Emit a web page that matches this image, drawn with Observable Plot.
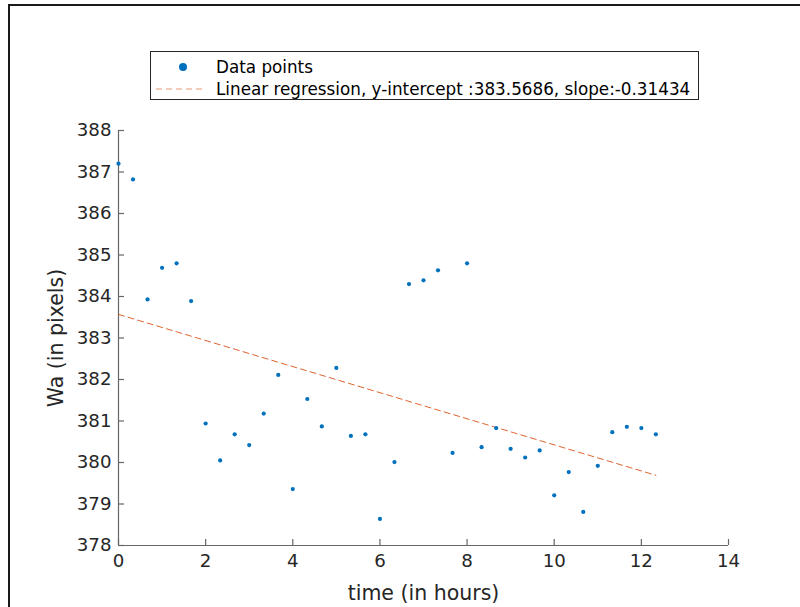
<!DOCTYPE html>
<html>
<head>
<meta charset="utf-8">
<script src="https://cdn.jsdelivr.net/npm/d3@7"></script>
<script src="https://cdn.jsdelivr.net/npm/@observablehq/plot@0.6"></script>
<style>
  body { margin: 0; background: #fff; }
  #wrap { position: relative; width: 800px; height: 607px; overflow: hidden; font-family: "DejaVu Sans", sans-serif; background: #fff; }
  #frame { position: absolute; left: 8px; top: 4px; width: 900px; height: 700px; border-left: 2px solid #1a1a1a; border-top: 2px solid #1a1a1a; pointer-events: none; }
  #chart { position: absolute; left: 0; top: 0; }
  #legend { position: absolute; left: 150px; top: 51px; width: 547px; height: 47px; border: 1px solid #262626; background: #fff; font-size: 16.8px; color: #000; }
  #legend .row { position: absolute; left: 0; height: 22px; line-height: 22px; white-space: nowrap; }
  #legend .row svg { position: absolute; left: 0; top: 0; }
  #legend .row span { position: absolute; left: 65px; top: 0; }
</style>
</head>
<body>
<div id="wrap">
  <div id="chart"></div>
  <div id="legend"></div>
  <div id="frame"></div>
</div>
<script>
// ---- data ----
const times = [0, 0.3333, 0.6667, 1, 1.3333, 1.6667, 2, 2.3333, 2.6667, 3, 3.3333, 3.6667,
  4, 4.3333, 4.6667, 5, 5.3333, 5.6667, 6, 6.3333, 6.6667, 7, 7.3333, 7.6667,
  8, 8.3333, 8.6667, 9, 9.3333, 9.6667, 10, 10.3333, 10.6667, 11, 11.3333, 11.6667, 12, 12.3333];
const wa = [387.20, 386.82, 383.93, 384.69, 384.80, 383.89, 380.94, 380.05, 380.68, 380.42, 381.18, 382.11,
  379.36, 381.53, 380.87, 382.28, 380.64, 380.68, 378.64, 380.01, 384.30, 384.39, 384.63, 380.23,
  384.80, 380.37, 380.83, 380.33, 380.12, 380.29, 379.21, 379.77, 378.81, 379.92, 380.73, 380.86, 380.83, 380.68];
const regIntercept = 383.5686;
const regSlope = -0.31434;
const xTicks = [0, 2, 4, 6, 8, 10, 12, 14];
const yTicks = [378, 379, 380, 381, 382, 383, 384, 385, 386, 387, 388];
const xLabel = "time (in hours)";
const yLabel = "Wa (in pixels)";
const legendLabels = ["Data points", "Linear regression, y-intercept :383.5686, slope:-0.31434"];

// ---- build ----
const points = times.map((t, i) => ({t, w: wa[i]}));
const tEnd = times[times.length - 1];
const regLine = [
  {t: 0, w: regIntercept},
  {t: tEnd, w: regIntercept + regSlope * tEnd}
];

const W = 800, H = 607;
const mL = 118, mR = 72, mT = 130, mB = 62;
const xDom = [0, 14], yDom = [378, 388];
const tickPx = 6;
const dxTick = (xDom[1] - xDom[0]) * tickPx / (W - mL - mR);
const dyTick = (yDom[1] - yDom[0]) * tickPx / (H - mT - mB);
const blue = "#0072BD", orange = "#D95319", axisColor = "#262626", lineColor = "#666666";

const plot = Plot.plot({
  width: W, height: H,
  marginLeft: mL, marginRight: mR, marginTop: mT, marginBottom: mB,
  style: {fontFamily: "DejaVu Sans, sans-serif", background: "transparent", color: axisColor},
  x: {domain: xDom},
  y: {domain: yDom},
  marks: [
    Plot.axisX({ticks: xTicks, tickSize: 0, tickPadding: 9, fontSize: 18.2, label: xLabel, labelAnchor: "center", labelOffset: 54, labelArrow: "none"}),
    Plot.axisY({ticks: yTicks, tickSize: 0, tickPadding: 7, fontSize: 18.2, label: yLabel, labelAnchor: "center", labelOffset: 70, labelArrow: "none"}),
    // inward ticks
    Plot.ruleY(yTicks, {y: d => d, x1: xDom[0], x2: xDom[0] + dxTick, stroke: lineColor, strokeWidth: 1.2}),
    Plot.ruleX(xTicks, {x: d => d, y1: yDom[0], y2: yDom[0] + dyTick, stroke: lineColor, strokeWidth: 1.2}),
    // axis lines
    Plot.ruleX([xDom[0]], {y1: yDom[0], y2: yDom[1], stroke: lineColor, strokeWidth: 1.2}),
    Plot.ruleY([yDom[0]], {x1: xDom[0], x2: xDom[1], stroke: lineColor, strokeWidth: 1.2}),
    // regression
    Plot.line(regLine, {x: "t", y: "w", stroke: orange, strokeWidth: 1, strokeDasharray: "6,4", strokeOpacity: 0.9}),
    // data
    Plot.dot(points, {x: "t", y: "w", r: 2.1, fill: blue, stroke: "none"})
  ]
});
document.getElementById("chart").appendChild(plot);
d3.select(plot).selectAll('g[aria-label="x-axis label"] text, g[aria-label="y-axis label"] text').attr("font-size", 20.5);

// legend
const leg = d3.select("#legend");
const r1 = leg.append("div").attr("class", "row").style("top", "4px").style("width", "540px");
const s1 = r1.append("svg").attr("width", 60).attr("height", 22);
s1.append("circle").attr("cx", 32).attr("cy", 11).attr("r", 4).attr("fill", blue);
r1.append("span").text(legendLabels[0]);
const r2 = leg.append("div").attr("class", "row").style("top", "26px").style("width", "540px");
const s2 = r2.append("svg").attr("width", 60).attr("height", 22);
s2.append("line").attr("x1", 5).attr("x2", 55).attr("y1", 11).attr("y2", 11)
  .attr("stroke", orange).attr("stroke-opacity", 0.6).attr("stroke-width", 1.2).attr("stroke-dasharray", "6,4");
r2.append("span").text(legendLabels[1]);
</script>
</body>
</html>
